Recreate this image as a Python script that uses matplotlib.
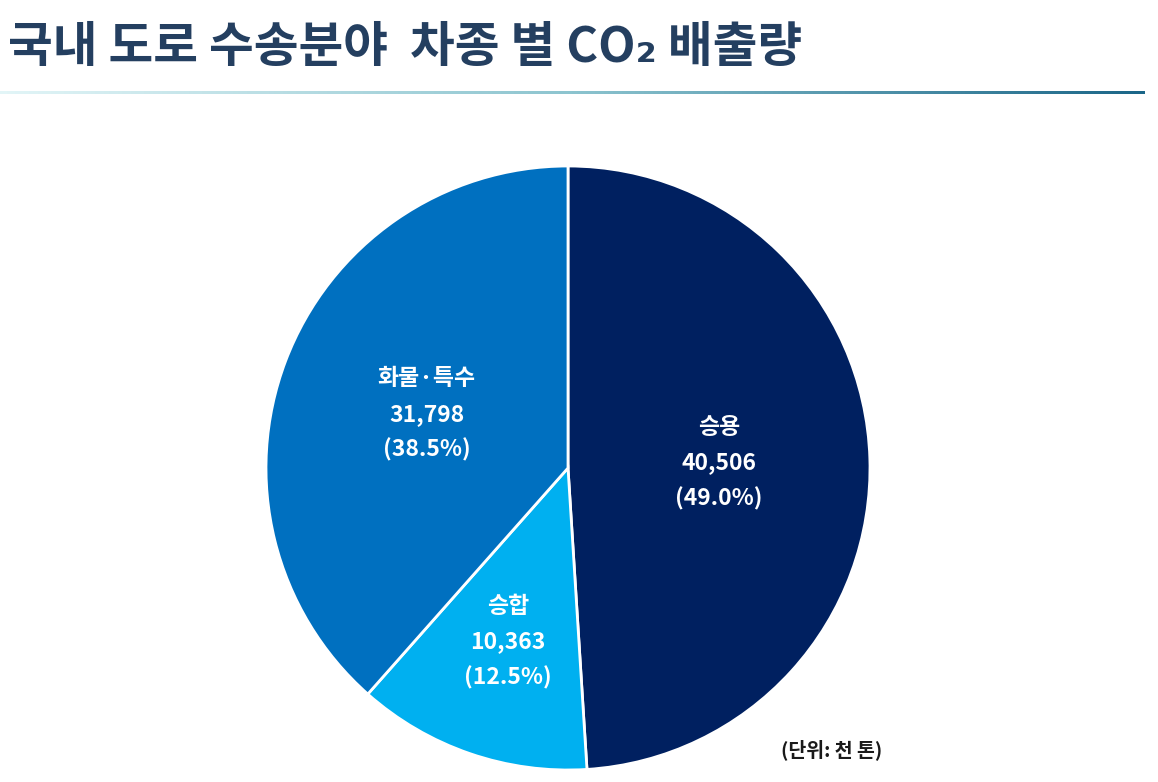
import numpy as np
import matplotlib
matplotlib.use("Agg")
import matplotlib.pyplot as plt
from matplotlib.colors import LinearSegmentedColormap

plt.rcParams['font.family'] = ['Noto Sans CJK KR', 'DejaVu Sans']

categories = ['승용', '승합', '화물·특수']
values = [40506, 10363, 31798]
shares = ['49.0%', '12.5%', '38.5%']
colors = ['#002060', '#00B0F0', '#0070C0']
label_r = [0.5, 0.61, 0.5]

W, H = 1158, 782
fig = plt.figure(figsize=(W / 100, H / 100), dpi=100)

# title
fig.text(8 / W, 1 - 47 / H, '국내 도로 수송분야  차종 별 CO₂ 배출량', fontsize=35,
         fontweight='bold', color='#243F60', va='center', ha='left')

# gradient rule under the title
gax = fig.add_axes([0, 1 - 94 / H, 1145 / W, 3 / H])
cmap = LinearSegmentedColormap.from_list('rule', ['#E2F5F7', '#8CC4CF', '#1B6688'])
gax.imshow(np.linspace(0, 1, 256)[None, :], aspect='auto', cmap=cmap)
gax.axis('off')

# pie
cx, cy, r = 568, 468, 302
ax = fig.add_axes([(cx - r) / W, 1 - (cy + r) / H, 2 * r / W, 2 * r / H])
wedges, _ = ax.pie(values, colors=colors, startangle=90, counterclock=False,
                   wedgeprops=dict(edgecolor='white', linewidth=2))
ax.set_xlim(-1.0, 1.0)
ax.set_ylim(-1.0, 1.0)
ax.set_aspect('equal')

for w, cat, v, s, rr in zip(wedges, categories, values, shares, label_r):
    ang = np.deg2rad((w.theta1 + w.theta2) / 2)
    x, y = rr * np.cos(ang), rr * np.sin(ang)
    ax.text(x, y, f'{cat}\n{v:,}\n({s})', ha='center', va='center',
            color='white', fontsize=16.5, fontweight='bold', linespacing=1.68)

fig.text(832 / W, 1 - 750 / H, '(단위: 천 톤)', fontsize=14, fontweight='bold',
         color='#1a1a1a', ha='center', va='center')

fig.savefig('out.png', dpi=100)
